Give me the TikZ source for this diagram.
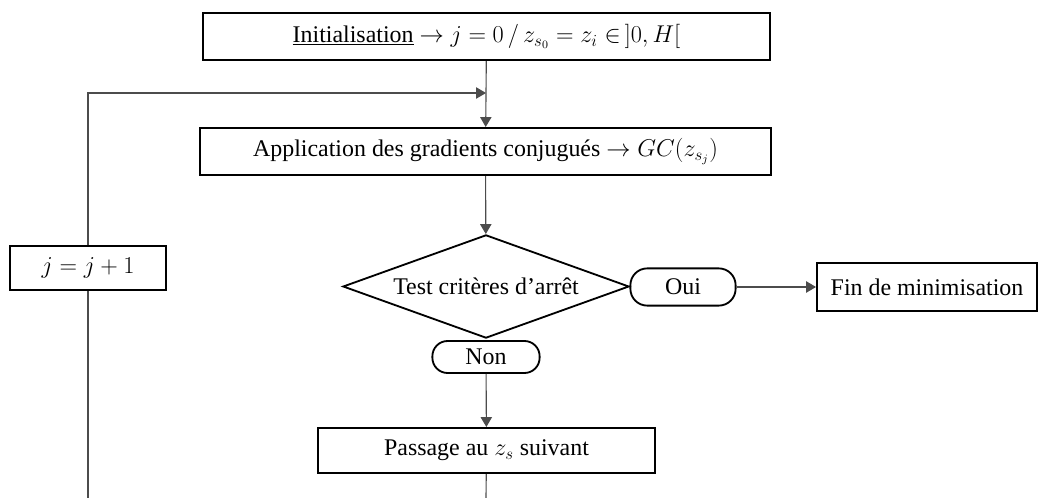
\documentclass[tikz,border=0pt]{standalone}
\usepackage{fontspec}
\setmainfont{Liberation Serif}
\usetikzlibrary{shapes.geometric,arrows.meta}
\begin{document}
\begin{tikzpicture}[x=0.025cm,y=-0.025cm,
  every node/.style={font=\fontsize{17}{20}\selectfont},
  box/.style={draw, line width=1.3pt, inner sep=0pt},
  pill/.style={draw, line width=1.3pt, inner sep=0pt, rounded corners=0.42cm},
  test/.style={draw, line width=1.3pt, diamond, inner sep=0pt, aspect=2.8},
  link/.style={draw=black!70, line width=0.8pt},
  arr/.style={link, -{Triangle[length=7pt,width=8pt]}}]
\useasboundingbox (0,0) rectangle (1038,498);
\node[box, minimum width=14.18cm, minimum height=1.18cm] (init) at (486.5,36.5)
  {\underline{Initialisation} $\rightarrow j=0\,/\,z_{s_0}=z_i\in\,]0,H[$};
\node[box, minimum width=14.28cm, minimum height=1.18cm] (app) at (485.5,151.5)
  {Application des gradients conjugués $\rightarrow GC(z_{s_j})$};
\node[test, minimum width=7.15cm, minimum height=2.58cm] (test) at (486,286.5)
  {Test critères d’arrêt};
\node[pill, minimum width=2.63cm, minimum height=0.93cm] (oui) at (683,287) {Oui};
\node[box, minimum width=5.5cm, minimum height=1.2cm] (fin) at (927,287) {Fin de minimisation};
\node[pill, minimum width=2.68cm, minimum height=0.8cm, rounded corners=0.38cm] (non) at (486,357) {Non};
\node[box, minimum width=8.43cm, minimum height=1.13cm] (pass) at (486.5,450.5)
  {Passage au $z_s$ suivant};
\node[box, minimum width=3.9cm, minimum height=1.1cm] (inc) at (88,268) {$j=j+1$};
\coordinate (join) at (486,93);
\coordinate (out1) at (486,498);
\coordinate (out2) at (88,498);
\draw[arr] (init) -- (app);
\draw[arr] (inc) |- (join);
\draw[link] (out2) -- (inc);
\draw[arr] (app) -- (test);
\draw[arr] (oui) -- (fin);
\draw[arr] (non) -- (pass);
\draw[link] (pass) -- (out1);
\end{tikzpicture}
\end{document}
